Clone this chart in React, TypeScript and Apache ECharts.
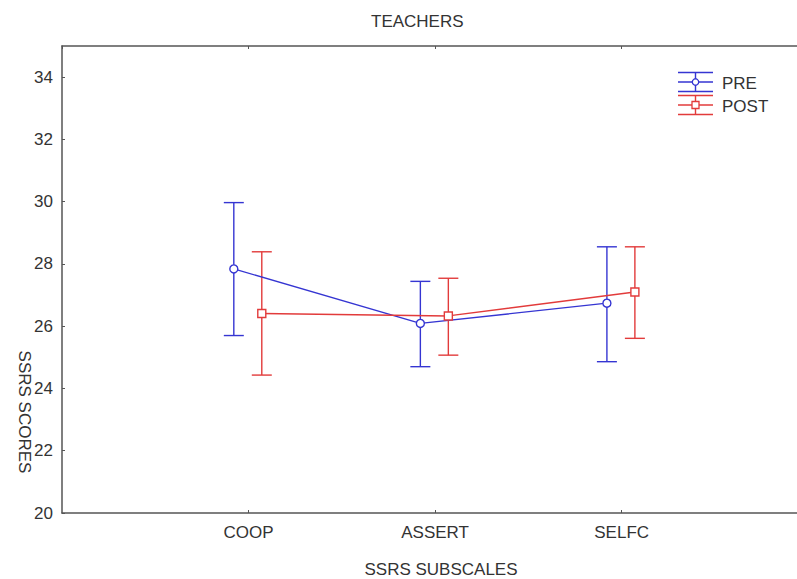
import React, { useEffect, useRef } from "react";
import * as echarts from "echarts";

const categories = ["COOP", "ASSERT", "SELFC"];
const preMean = [27.84, 26.09, 26.74];
const preLow = [25.7, 24.7, 24.86];
const preHigh = [29.97, 27.44, 28.55];
const postMean = [26.41, 26.33, 27.1];
const postLow = [24.43, 25.07, 25.61];
const postHigh = [28.39, 27.54, 28.55];
const seriesNames = ["PRE", "POST"];

const BLUE = "#3535d2";
const RED = "#e23b3b";
const AXIS = "#555";
const FONT = "Liberation Sans, Arial, sans-serif";
const FS = 17;
const PRE_OFF = -0.079;
const POST_OFF = 0.071;

function errorSeries(name: string, low: number[], high: number[], off: number, color: string) {
  return {
    type: "custom",
    name: name + " err",
    silent: true,
    z: 2,
    data: low.map((l, i) => [i + 1 + off, l, high[i]]),
    renderItem: (params: any, api: any) => {
      const x = api.value(0);
      const lo = api.coord([x, api.value(1)]);
      const hi = api.coord([x, api.value(2)]);
      const hw = 10;
      const st = { stroke: color, lineWidth: 1.4 };
      return {
        type: "group",
        children: [
          { type: "line", shape: { x1: lo[0], y1: lo[1], x2: hi[0], y2: hi[1] }, style: st },
          { type: "line", shape: { x1: lo[0] - hw, y1: lo[1], x2: lo[0] + hw, y2: lo[1] }, style: st },
          { type: "line", shape: { x1: hi[0] - hw, y1: hi[1], x2: hi[0] + hw, y2: hi[1] }, style: st },
        ],
      };
    },
  };
}

function legendItem(y: number, color: string, label: string, square: boolean) {
  const x1 = 678, x2 = 713, cx = 695.5;
  const st = { stroke: color, lineWidth: 1.4 };
  return [
    { type: "line", shape: { x1, y1: y - 9.5, x2, y2: y - 9.5 }, style: st },
    { type: "line", shape: { x1, y1: y, x2, y2: y }, style: st },
    { type: "line", shape: { x1, y1: y + 9.5, x2, y2: y + 9.5 }, style: st },
    { type: "line", shape: { x1: cx, y1: y - 9.5, x2: cx, y2: y + 9.5 }, style: st },
    square
      ? { type: "rect", shape: { x: cx - 3.5, y: y - 3.5, width: 7, height: 7 }, style: { fill: "#fff", stroke: color, lineWidth: 1.3 } }
      : { type: "circle", shape: { cx, cy: y, r: 3.2 }, style: { fill: "#fff", stroke: color, lineWidth: 1.3 } },
    {
      type: "text",
      x: 722,
      y: y + 1,
      style: { text: label, fill: "#333", font: `${FS}px ${FONT}`, textVerticalAlign: "middle", verticalAlign: "middle" },
    },
  ];
}

export default function App() {
  const ref = useRef<HTMLDivElement>(null);
  useEffect(() => {
    if (!ref.current) return;
    const chart = echarts.init(ref.current, null, { renderer: "svg" });
    const xBase = {
      type: "value",
      min: 0,
      max: 3.94,
      interval: 1,
      splitLine: { show: false },
      axisLine: { show: true, lineStyle: { color: AXIS, width: 1.5 } },
      axisTick: { show: true, inside: true, length: 3, lineStyle: { color: AXIS } },
    };
    chart.setOption({
      animation: false,
      backgroundColor: "#fff",
      title: {
        text: "TEACHERS",
        left: 366,
        top: 8,
        textStyle: { fontFamily: FONT, fontSize: FS, fontWeight: "normal", color: "#333" },
      },
      grid: { left: 62, right: 0, top: 46, bottom: 66 },
      xAxis: [
        {
          ...xBase,
          position: "bottom",
          axisLabel: {
            show: true,
            margin: 11,
            fontFamily: FONT,
            fontSize: FS,
            color: "#333",
            showMinLabel: false,
            showMaxLabel: false,
            formatter: (v: number) => (Number.isInteger(v) && v >= 1 && v <= categories.length ? categories[v - 1] : ""),
          },
        },
        { ...xBase, position: "top", axisLabel: { show: false } },
      ],
      yAxis: {
        type: "value",
        min: 20,
        max: 35,
        interval: 2,
        splitLine: { show: false },
        axisLine: { show: true, lineStyle: { color: AXIS, width: 1.5 } },
        axisTick: { show: true, inside: true, length: 3, lineStyle: { color: AXIS } },
        axisLabel: { margin: 9, fontFamily: FONT, fontSize: FS, color: "#333", showMaxLabel: false },
      },
      series: [
        errorSeries(seriesNames[0], preLow, preHigh, PRE_OFF, BLUE),
        errorSeries(seriesNames[1], postLow, postHigh, POST_OFF, RED),
        {
          type: "line",
          name: seriesNames[0],
          z: 3,
          data: preMean.map((m, i) => [i + 1 + PRE_OFF, m]),
          lineStyle: { color: BLUE, width: 1.4 },
          itemStyle: { color: "#fff", borderColor: BLUE, borderWidth: 1.4 },
          symbol: "circle",
          symbolSize: 8,
        },
        {
          type: "line",
          name: seriesNames[1],
          z: 3,
          data: postMean.map((m, i) => [i + 1 + POST_OFF, m]),
          lineStyle: { color: RED, width: 1.4 },
          itemStyle: { color: "#fff", borderColor: RED, borderWidth: 1.4 },
          symbol: "rect",
          symbolSize: 8,
        },
      ],
      graphic: [
        ...legendItem(82, BLUE, seriesNames[0], false),
        ...legendItem(105, RED, seriesNames[1], true),
        {
          type: "text",
          x: 24,
          y: 412,
          rotation: -Math.PI / 2,
          style: { text: "SSRS SCORES", fill: "#333", font: `${FS}px ${FONT}`, align: "center", verticalAlign: "middle" },
        },
        {
          type: "text",
          x: 441,
          y: 569,
          style: { text: "SSRS SUBSCALES", fill: "#333", font: `${FS}px ${FONT}`, align: "center", verticalAlign: "middle" },
        },
      ],
    });
    return () => chart.dispose();
  }, []);
  return <div ref={ref} style={{ width: 797, height: 579, position: "absolute", left: 0, top: 0 }} />;
}
